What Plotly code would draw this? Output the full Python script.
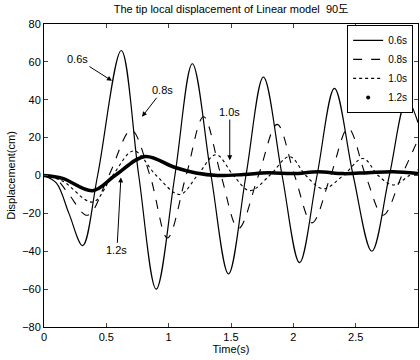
import plotly.graph_objects as go

# 0.6 s load (solid)
t06 = [0, 0.1, 0.2, 0.31, 0.43, 0.62, 0.76, 0.90, 1.05, 1.19, 1.34, 1.48, 1.62, 1.76, 1.91, 2.05, 2.19, 2.33, 2.48, 2.63, 2.77, 2.91, 3.0]
y06 = [0, -4, -20, -37, 0, 66, 0, -60, 0, 59, 0, -52, 0, 52, 0, -46, 0, 46, 0, -40, 0, 40, 28]

# 0.8 s load (dashed)
t08 = [0, 0.1, 0.2, 0.35, 0.52, 0.70, 0.85, 0.99, 1.14, 1.28, 1.42, 1.56, 1.72, 1.87, 2.01, 2.15, 2.30, 2.44, 2.58, 2.72, 2.87, 3.0]
y08 = [0, -2, -10, -21, 0, 24, 0, -33, 0, 31, 0, -28, 0, 27, 0, -25, 0, 25, 0, -21, 0, 19]

# 1.0 s load (dotted)
t10 = [0, 0.15, 0.39, 0.55, 0.72, 0.90, 1.09, 1.23, 1.38, 1.52, 1.65, 1.81, 1.97, 2.10, 2.24, 2.40, 2.56, 2.68, 2.80, 2.93, 3.0]
y10 = [0, -3, -14, 0, 13, 0, -10, 0, 11, 0, -8, 0, 10, 0, -7, 0, 9, 0, -5, 0, 3]

# 1.2 s load (thick dotted markers)
t12 = [0, 0.15, 0.39, 0.57, 0.81, 1.04, 1.22, 1.39, 1.6, 1.8, 2.0, 2.2, 2.4, 2.6, 2.8, 3.0]
y12 = [0, -1.5, -8, 0, 10, 4.5, 1.3, 0, 0.5, 1.5, 1, 2, 1, 1.5, 2, 1]

legend_names = ["0.6s", "0.8s", "1.0s", "1.2s"]
x_ticks = [0, 0.5, 1, 1.5, 2, 2.5, 3]
x_tick_text = ["0", "0.5", "1", "1.5", "2", "2.5", "3"]
y_ticks = [-80, -60, -40, -20, 0, 20, 40, 60, 80]

FONT = "Liberation Sans, Arial, Noto Sans CJK KR, sans-serif"

fig = go.Figure()
fig.add_trace(go.Scatter(x=t06, y=y06, mode="lines", name=legend_names[0],
                         line=dict(color="black", width=1.2, shape="spline", smoothing=1)))
fig.add_trace(go.Scatter(x=t08, y=y08, mode="lines", name=legend_names[1],
                         line=dict(color="black", width=1.1, dash="dash", shape="spline", smoothing=1)))
fig.add_trace(go.Scatter(x=t10, y=y10, mode="lines", name=legend_names[2],
                         line=dict(color="black", width=1.1, dash="dot", shape="spline", smoothing=1)))
fig.add_trace(go.Scatter(x=t12, y=y12, mode="lines", showlegend=False,
                         line=dict(color="black", width=3.5, shape="spline", smoothing=1)))
fig.add_trace(go.Scatter(x=[None], y=[None], mode="markers", name=legend_names[3],
                         marker=dict(color="black", size=4)))

annots = [
    dict(text="0.6s", x=0.545, y=50, ax=0.27, ay=61.5),
    dict(text="0.8s", x=0.786, y=31, ax=0.95, ay=45),
    dict(text="1.0s", x=1.49, y=8, ax=1.49, ay=33.5),
    dict(text="1.2s", x=0.617, y=-1, ax=0.585, ay=-39.5),
]
for a in annots:
    fig.add_annotation(x=a["x"], y=a["y"], ax=a["ax"], ay=a["ay"], axref="x", ayref="y",
                       xref="x", yref="y", text=a["text"], showarrow=True,
                       arrowhead=2, arrowsize=1, arrowwidth=1, arrowcolor="black",
                       font=dict(family=FONT, size=11, color="black"))

fig.update_layout(
    width=420, height=360,
    margin=dict(l=44, r=2, t=24, b=33),
    paper_bgcolor="white", plot_bgcolor="white",
    font=dict(family=FONT, size=11, color="black"),
    title=dict(text="The tip local displacement of Linear model  90도",
               x=0.55, xanchor="center", y=0.985, yanchor="top", yref="container",
               font=dict(family=FONT, size=11, color="black")),
    legend=dict(x=0.987, xanchor="right", y=0.997, yanchor="top",
                bgcolor="white", bordercolor="black", borderwidth=1,
                font=dict(family=FONT, size=10, color="black"),
                tracegroupgap=0, itemwidth=30),
    showlegend=True,
)
fig.update_xaxes(range=[0, 3], tickvals=x_ticks, ticktext=x_tick_text,
                 ticks="inside", ticklen=4, showline=True, linecolor="black", linewidth=1,
                 mirror="ticks", showgrid=False, zeroline=False,
                 title=dict(text="Time(s)", standoff=2, font=dict(size=11)))
fig.update_yaxes(range=[-80, 80], tickvals=y_ticks,
                 ticks="inside", ticklen=4, showline=True, linecolor="black", linewidth=1,
                 mirror="ticks", showgrid=False, zeroline=False,
                 title=dict(text="Displacement(cm)", standoff=4, font=dict(size=11)))

fig.write_html("out.html")
